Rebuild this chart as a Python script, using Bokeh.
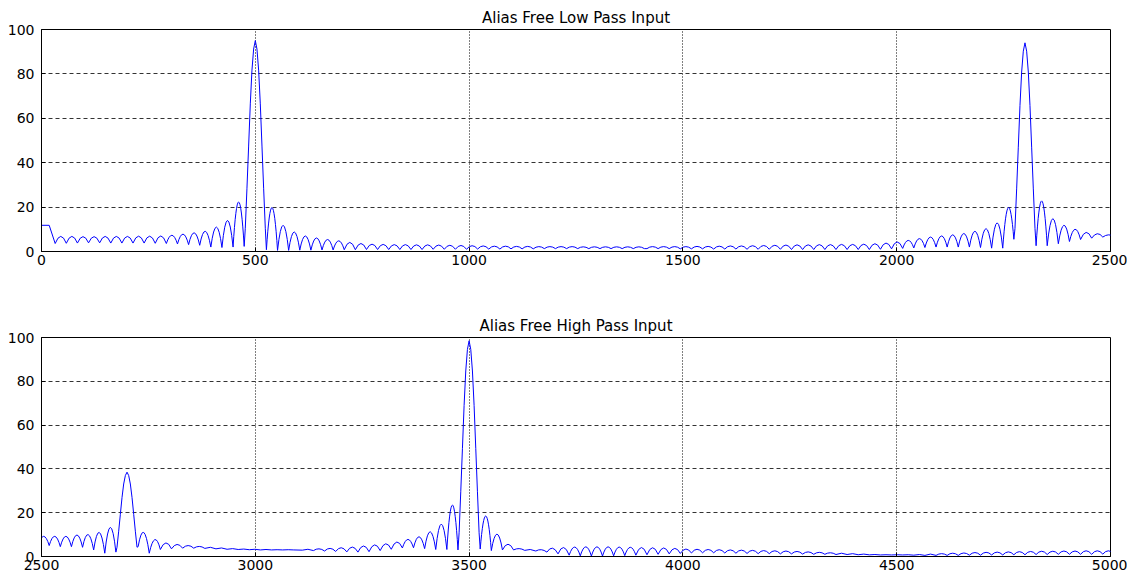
import numpy as np
from bokeh.plotting import figure
from bokeh.models import Range1d, FixedTicker, ColumnDataSource
from bokeh.layouts import column
from bokeh.embed import file_html
from bokeh.resources import INLINE

# spacing between spectral nulls
NULL_SPACING = 26.0

# main-lobe profile: offset (fraction of null spacing) and relative height
main_shape_off = [-0.9, -0.75, -0.6, -0.45, -0.3, -0.15, 0.0, 0.15, 0.3, 0.45, 0.6, 0.75, 0.9]
main_shape_rel = [0.11, 0.30, 0.50, 0.70, 0.86, 0.96, 1.0, 0.96, 0.86, 0.70, 0.50, 0.30, 0.11]

y_ticks = [0, 20, 40, 60, 80, 100]

# ---------------- top panel: Alias Free Low Pass Input ----------------
lp_title = "Alias Free Low Pass Input"
lp_x_ticks = [0, 500, 1000, 1500, 2000, 2500]
lp_dc_freq = [0, 18]
lp_dc_mag = [11.8, 11.8]

lp_t1_freq = 500
lp_t1_peak = 95.0
lp_t1_inner = [2.3, 0.8]
lp_t1_left_peaks = [22.3, 14.0, 11.0, 9.1, 8.4, 7.8, 7.3, 7.0, 6.9, 6.9, 6.8, 6.8, 6.8, 6.7, 6.7, 6.8, 6.8]
lp_t1_left_troughs = [2.0, 1.8, 2.0, 2.8, 3.1, 3.4, 3.6, 3.7, 3.8, 3.8, 3.8, 3.8, 3.9, 3.9, 3.8, 3.7, 3.6]
lp_t1_right_peaks = [19.8, 11.8, 8.8, 7.0, 6.1, 5.4, 4.8, 4.1, 3.6, 3.3, 3.2, 3.1, 3.1, 3.0, 3.0, 2.9, 2.8,
                     2.7, 2.6, 2.5, 2.4, 2.4, 2.3, 2.3, 2.2, 2.2, 2.2, 2.2, 2.1, 2.1, 2.1, 2.1, 2.1, 2.1]
lp_t1_right_troughs = [0.5, 0.5, 0.6, 0.6, 0.7, 0.7, 0.8, 0.8, 0.9, 0.9, 0.9, 0.9, 0.9, 0.9, 1.0, 1.0, 1.0,
                       1.0, 1.1, 1.1, 1.1, 1.2, 1.2, 1.2, 1.3, 1.3, 1.3, 1.3, 1.3, 1.3, 1.3, 1.3, 1.3, 1.3]

lp_t2_freq = 2300
lp_t2_peak = 94.0
lp_t2_inner = [5.5, 2.6]
lp_t2_left_peaks = [19.8, 12.9, 10.3, 9.1, 8.1, 7.5, 7.0, 6.5, 5.8, 5.0, 4.3, 3.8, 3.5, 3.3, 3.2, 3.2, 3.1,
                    3.1, 3.0, 3.0, 2.9, 2.8, 2.7, 2.6, 2.5, 2.5, 2.4, 2.3, 2.3, 2.2, 2.2, 2.2, 2.2]
lp_t2_left_troughs = [1.5, 1.5, 1.8, 2.0, 2.0, 2.0, 2.0, 1.8, 1.6, 1.4, 1.2, 1.0, 0.9, 0.9, 0.9, 0.9, 0.9,
                      0.9, 0.9, 0.9, 1.0, 1.0, 1.0, 1.0, 1.1, 1.1, 1.1, 1.2, 1.2, 1.2, 1.3, 1.3, 1.3]
lp_t2_right_peaks = [22.8, 14.8, 11.8, 10.0, 8.6, 8.0, 7.5]
lp_t2_right_troughs = [2.6, 3.5, 4.5, 5.4, 6.0, 6.5, 6.8]

# ---------------- bottom panel: Alias Free High Pass Input ----------------
hp_title = "Alias Free High Pass Input"
hp_x_ticks = [2500, 3000, 3500, 4000, 4500, 5000]

hp_t1_freq = 2700
hp_t1_peak = 38.5
hp_t1_inner = [2.0, 4.5]
hp_t1_left_peaks = [13.3, 11.0, 10.0, 9.8, 9.2, 9.2, 9.2]
hp_t1_left_troughs = [1.5, 3.0, 4.2, 4.5, 4.5, 5.0, 5.0]
hp_t1_right_peaks = [11.0, 7.7, 6.2, 5.5, 5.0, 4.6, 4.2, 3.9, 3.6, 3.4, 3.3, 3.2, 3.1, 3.1]
hp_t1_right_troughs = [1.5, 3.2, 3.5, 3.8, 3.8, 3.7, 3.5, 3.3, 3.2, 3.1, 3.0, 3.0, 3.0, 3.0]

hp_t2_freq = 3500
hp_t2_peak = 98.5
hp_t2_inner = [3.0, 3.4]
hp_t2_left_peaks = [23.5, 14.8, 11.3, 9.0, 7.8, 6.6, 5.8, 5.3, 4.8, 4.3, 4.0, 3.7, 3.5, 3.3]
hp_t2_left_troughs = [3.2, 3.2, 3.6, 4.0, 3.9, 3.3, 2.7, 2.2, 2.0, 2.1, 2.3, 2.5, 2.7, 2.9]
hp_t2_right_peaks = [18.5, 10.2, 5.6, 3.6,
                     3.2, 3.1,
                     3.8, 4.1, 4.3, 4.4, 4.4, 4.4, 4.3, 4.2, 4.1, 4.0, 3.9, 3.7,
                     3.4, 3.3, 3.2, 3.1, 3.0, 2.9,
                     2.8, 2.7, 2.6, 2.5, 2.3, 2.1, 1.9, 1.7, 1.5, 1.3,
                     1.1, 0.9, 0.8, 0.8,
                     0.8, 0.9, 1.1, 1.3,
                     1.5, 1.6, 1.8, 1.9, 2.0, 2.1, 2.2, 2.3,
                     2.4, 2.4, 2.5, 2.5, 2.6, 2.6, 2.6]
hp_t2_right_troughs = [2.7, 3.0, 3.0, 2.8,
                       2.5, 2.0,
                       1.2, 0.6, 0.3, 0.2, 0.2, 0.3, 0.4, 0.6, 0.8, 1.0, 1.2, 1.4,
                       1.6, 1.7, 1.7, 1.6, 1.5, 1.4,
                       1.3, 1.3, 1.2, 1.2, 1.1, 1.0, 1.0, 0.9, 0.9, 0.8,
                       0.75, 0.7, 0.7, 0.7,
                       0.6, 0.5, 0.5, 0.5,
                       0.5, 0.6, 0.6, 0.7, 0.7, 0.8, 0.8, 0.9,
                       0.9, 1.0, 1.0, 1.0, 1.0, 1.1, 1.1]

FONT = "DejaVu Sans"
BLUE = "#0000ff"


def side_lobes(center, direction, peaks, troughs, inner, seg):
    prev = inner
    xb = center + direction * NULL_SPACING
    for k, (h, t) in enumerate(zip(peaks, troughs), start=1):
        xa = center + direction * k * NULL_SPACING
        xb = center + direction * (k + 1) * NULL_SPACING
        seg["x0"].append(xa); seg["y0"].append(prev)
        seg["x1"].append(xb); seg["y1"].append(t)
        seg["cx"].append((xa + xb) / 2.0); seg["cy"].append(2.0 * h - (prev + t) / 2.0)
        prev = t
    return xb, prev


def main_lobe(center, peak, inner):
    xs = [center - NULL_SPACING] + [center + o * NULL_SPACING for o in main_shape_off] + [center + NULL_SPACING]
    ys = [inner[0]] + [peak * r for r in main_shape_rel] + [inner[1]]
    return xs, ys


def tone(freq, peak, inner, lp, lt, rp, rt, seg, lines):
    left_end = side_lobes(freq, -1, lp, lt, inner[0], seg)
    right_end = side_lobes(freq, 1, rp, rt, inner[1], seg)
    lines.append(main_lobe(freq, peak, inner))
    return left_end, right_end


def make_panel(title, x0, x1, xticks, height, top, bottom):
    p = figure(width=1127, height=height, output_backend="svg", toolbar_location=None,
               x_range=Range1d(x0, x1), y_range=Range1d(0, 100),
               min_border_left=41, min_border_right=17, min_border_top=top, min_border_bottom=bottom,
               title=title)
    p.title.text_font = FONT
    p.title.text_font_size = "15px"
    p.title.text_font_style = "normal"
    p.title.align = "center"
    p.title.text_color = "black"
    p.title.standoff = 5
    p.xaxis.ticker = FixedTicker(ticks=xticks)
    p.yaxis.ticker = FixedTicker(ticks=y_ticks)
    for ax in (p.xaxis[0], p.yaxis[0]):
        ax.major_label_text_font = FONT
        ax.major_label_text_font_size = "14px"
        ax.major_label_text_color = "black"
        ax.major_tick_in = 4
        ax.major_tick_out = 0
        ax.minor_tick_line_color = None
        ax.axis_line_color = "black"
        ax.major_tick_line_color = "black"
    p.xaxis.major_label_standoff = 3
    p.yaxis.major_label_standoff = 7
    p.xgrid.grid_line_color = "black"
    p.xgrid.grid_line_dash = "1 2"
    p.ygrid.grid_line_color = "#333333"
    p.ygrid.grid_line_dash = "4 3"
    p.outline_line_color = "black"
    p.outline_line_width = 1
    p.background_fill_color = "white"
    p.border_fill_color = "white"
    return p


def draw(p, seg, lines):
    p.quadratic(x0="x0", y0="y0", x1="x1", y1="y1", cx="cx", cy="cy",
                source=ColumnDataSource(seg), line_color=BLUE, line_width=1)
    for xs, ys in lines:
        p.line(xs, ys, line_color=BLUE, line_width=1)


# ---- top
seg = dict(x0=[], y0=[], x1=[], y1=[], cx=[], cy=[])
lines = []
a_left, a_right = tone(lp_t1_freq, lp_t1_peak, lp_t1_inner, lp_t1_left_peaks, lp_t1_left_troughs,
                       lp_t1_right_peaks, lp_t1_right_troughs, seg, lines)
b_left, b_right = tone(lp_t2_freq, lp_t2_peak, lp_t2_inner, lp_t2_left_peaks, lp_t2_left_troughs,
                       lp_t2_right_peaks, lp_t2_right_troughs, seg, lines)
lines.append((lp_dc_freq + [a_left[0]], lp_dc_mag + [a_left[1]]))
lines.append(([a_right[0], b_left[0]], [a_right[1], b_left[1]]))
p1 = make_panel(lp_title, 0, 2500, lp_x_ticks, 289, 29, 38)
draw(p1, seg, lines)

# ---- bottom
seg2 = dict(x0=[], y0=[], x1=[], y1=[], cx=[], cy=[])
lines2 = []
c_left, c_right = tone(hp_t1_freq, hp_t1_peak, hp_t1_inner, hp_t1_left_peaks, hp_t1_left_troughs,
                       hp_t1_right_peaks, hp_t1_right_troughs, seg2, lines2)
d_left, d_right = tone(hp_t2_freq, hp_t2_peak, hp_t2_inner, hp_t2_left_peaks, hp_t2_left_troughs,
                       hp_t2_right_peaks, hp_t2_right_troughs, seg2, lines2)
lines2.append(([c_right[0], d_left[0]], [c_right[1], d_left[1]]))
p2 = make_panel(hp_title, 2500, 5000, hp_x_ticks, 285, 48, 18)
draw(p2, seg2, lines2)

layout = column(p1, p2, spacing=0)
open("out.html", "w").write(file_html(layout, INLINE))
